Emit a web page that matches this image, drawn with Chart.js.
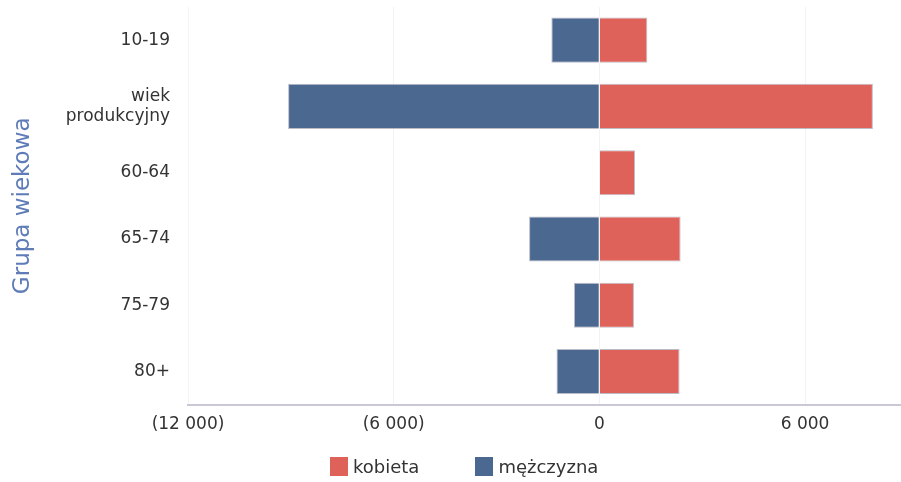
<!DOCTYPE html>
<html>
<head>
<meta charset="utf-8">
<script src="https://cdn.jsdelivr.net/npm/chart.js@4/dist/chart.umd.min.js"></script>
<style>
  html, body { margin: 0; padding: 0; background: #fff; }
  #wrap { width: 901px; height: 482px; position: relative; }
  #legend {
    position: absolute; left: 330px; top: 456px;
    display: flex; align-items: center;
    font-family: "DejaVu Sans", sans-serif; font-size: 18px; color: #333;
  }
  .item { display: flex; align-items: center; margin-right: 56px; }
  .box { width: 18px; height: 19px; margin-right: 5px; }
</style>
</head>
<body>
<div id="wrap">
  <canvas id="ageChart"></canvas>
  <div id="legend"></div>
</div>
<script>
// DATA

const ageGroups = ['10-19', ['wiek', 'produkcyjny'], '60-64', '65-74', '75-79', '80+'];
const women = [1400, 7980, 1040, 2370, 1010, 2340];
const men = [-1400, -9080, 0, -2050, -740, -1250];
const xTicks = [-12000, -6000, 0, 6000];

const seriesLabels = ['kobieta', 'mężczyzna'];
const seriesColors = ['#df625a', '#4b6891'];
const axisTitle = 'Grupa wiekowa';

// FORMAT

function formatValue(v) {
    const s = Math.abs(v).toString().replace(/\B(?=(\d{3})+(?!\d))/g, ' ');
    return v < 0 ? '(' + s + ')' : s;
}

// LEGEND

function buildLegend(chart) {
    const legend = document.getElementById('legend');
    chart.data.datasets.forEach(ds => {
        const item = document.createElement('div');
        item.className = 'item';
        const box = document.createElement('span');
        box.className = 'box';
        box.style.background = ds.backgroundColor;
        const text = document.createElement('span');
        text.innerText = ds.label;
        item.appendChild(box);
        item.appendChild(text);
        legend.appendChild(item);
    });
}

// CHART

window.onload = function () {

    const ctx = document.getElementById('ageChart').getContext('2d');

    Chart.defaults.font.family = '"DejaVu Sans", sans-serif';
    Chart.defaults.color = '#333';

    const chart = new Chart(ctx, {
        type: 'bar',
        data: {
            labels: ageGroups,
            datasets: [{
                label: seriesLabels[0],
                data: women,
                backgroundColor: seriesColors[0],
                borderColor: 'rgba(160,160,175,0.7)',
                borderWidth: 1,
                categoryPercentage: 0.68,
                barPercentage: 1
            }, {
                label: seriesLabels[1],
                data: men,
                backgroundColor: seriesColors[1],
                borderColor: 'rgba(160,160,175,0.7)',
                borderWidth: 1,
                categoryPercentage: 0.68,
                barPercentage: 1
            }]
        },
        options: {
            indexAxis: 'y',
            responsive: true,
            maintainAspectRatio: false,
            animation: false,
            layout: {
                padding: { top: 7, right: 0, bottom: 37, left: 0 }
            },
            scales: {
                x: {
                    stacked: true,
                    min: -12000,
                    max: 8800,
                    afterBuildTicks: function (axis) {
                        axis.ticks = xTicks.map(v => ({ value: v }));
                    },
                    ticks: {
                        font: { size: 17 },
                        color: '#333',
                        padding: 10,
                        callback: function (value) {
                            return formatValue(value);
                        }
                    },
                    grid: {
                        color: '#f3f3f5',
                        drawTicks: false
                    },
                    border: {
                        color: '#c8c8d6',
                        width: 2
                    }
                },
                y: {
                    stacked: true,
                    afterFit: function (axis) {
                        axis.width = 188;
                        axis.paddingTop = 0;
                        axis.paddingBottom = 0;
                    },
                    ticks: {
                        font: { size: 17 },
                        color: '#333',
                        padding: 10
                    },
                    grid: { display: false },
                    border: { display: false },
                    title: {
                        display: true,
                        text: axisTitle,
                        color: '#5f7cb8',
                        font: { size: 23 },
                        padding: { top: 9, bottom: 0 }
                    }
                }
            },
            plugins: {
                legend: { display: false },
                tooltip: { enabled: false }
            }
        }
    });

    buildLegend(chart);
};
</script>
</body>
</html>
